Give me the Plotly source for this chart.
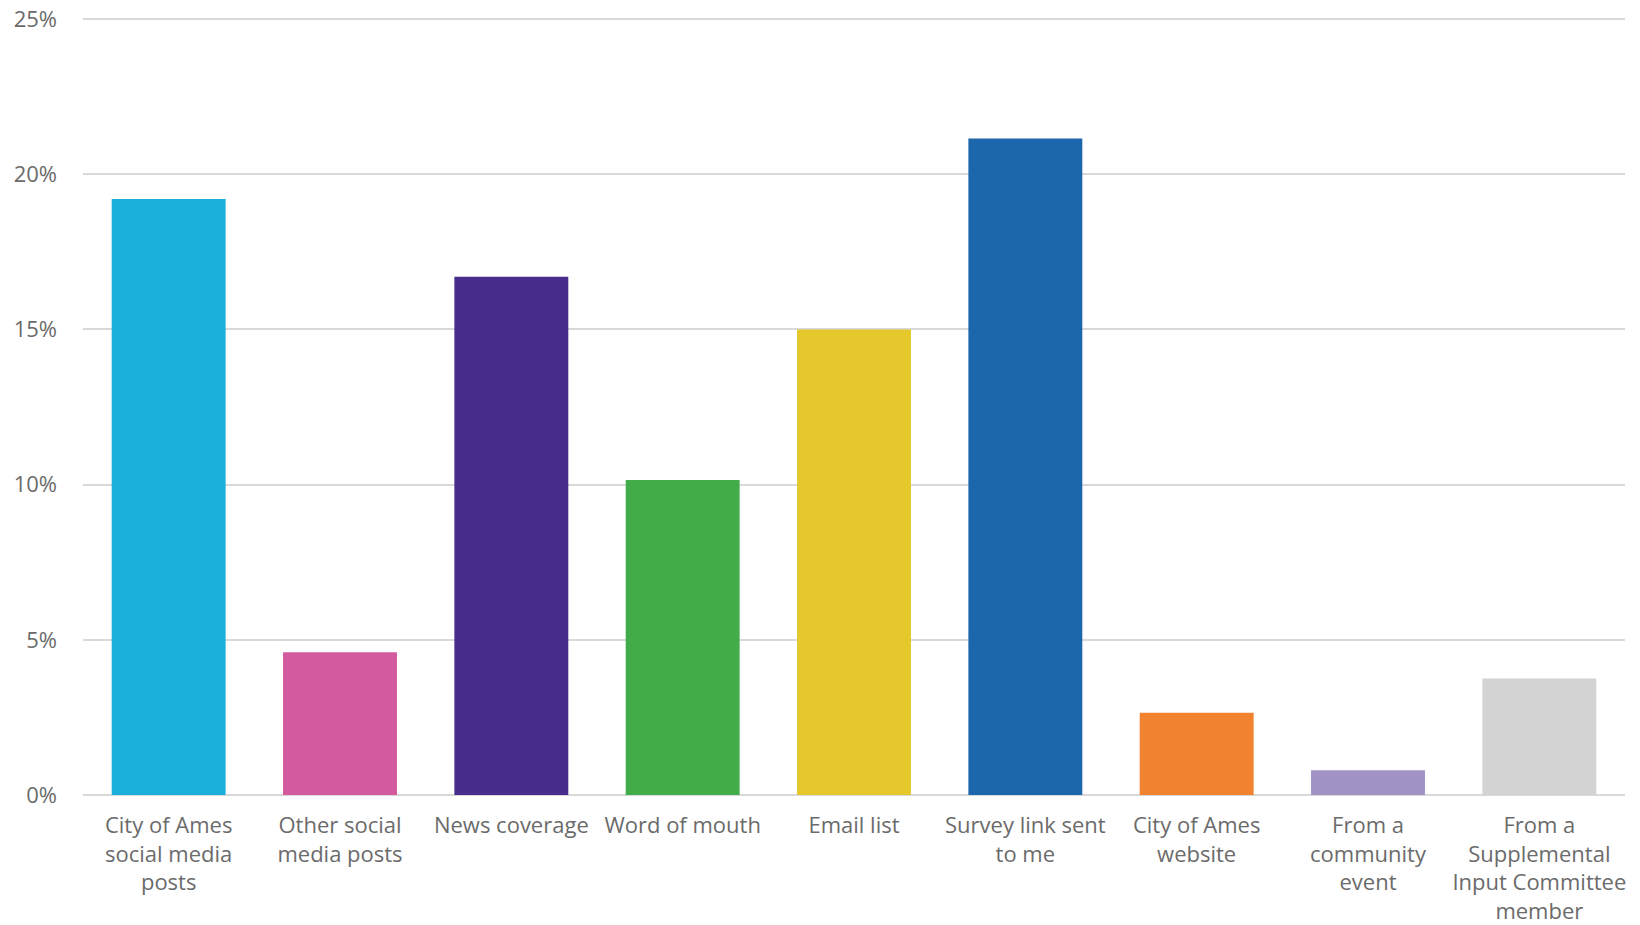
import plotly.graph_objects as go

# Survey: how respondents heard about it (% of responses)
categories = [
    "City of Ames<br>social media<br>posts",
    "Other social<br>media posts",
    "News coverage",
    "Word of mouth",
    "Email list",
    "Survey link sent<br>to me",
    "City of Ames<br>website",
    "From a<br>community<br>event",
    "From a<br>Supplemental<br>Input Committee<br>member",
]
shares = [19.2, 4.6, 16.7, 10.15, 15.0, 21.15, 2.65, 0.8, 3.75]
colors = ["#1AB0DB", "#D35A9E", "#482D8C", "#43AC4A", "#E5C82C",
          "#1C67AB", "#F08230", "#A192C6", "#D3D3D3"]
y_ticks = [0, 5, 10, 15, 20, 25]
y_labels = [f"{v}%" for v in y_ticks]

fig = go.Figure()
fig.add_trace(go.Bar(
    x=categories,
    y=shares,
    marker=dict(color=colors, line=dict(width=0)),
    showlegend=False,
))

# page body has an 8px margin, so the figure is sized to fill the rest
fig.update_layout(
    width=1632,
    height=917,
    paper_bgcolor="white",
    plot_bgcolor="white",
    bargap=0.335,
    font=dict(family="Open Sans", size=22, color="#6B6B6B"),
    margin=dict(l=75, r=15, t=8, b=130),
)
fig.update_xaxes(
    automargin=False,
    showgrid=False,
    showline=False,
    ticks="",
    tickangle=0,
    tickfont=dict(size=22, color="#6B6B6B"),
    ticklabelstandoff=15,
    ticklabeloverflow="allow",
)
fig.update_yaxes(
    automargin=False,
    range=[0, 25.1],
    tickvals=y_ticks,
    ticktext=y_labels,
    showgrid=True,
    gridcolor="#D9D9D9",
    gridwidth=2,
    zeroline=True,
    zerolinecolor="#D9D9D9",
    zerolinewidth=2,
    showline=False,
    ticks="",
    ticklabelstandoff=25,
    ticklabeloverflow="allow",
    tickfont=dict(size=22, color="#6B6B6B"),
)

fig.write_html("out.html")
